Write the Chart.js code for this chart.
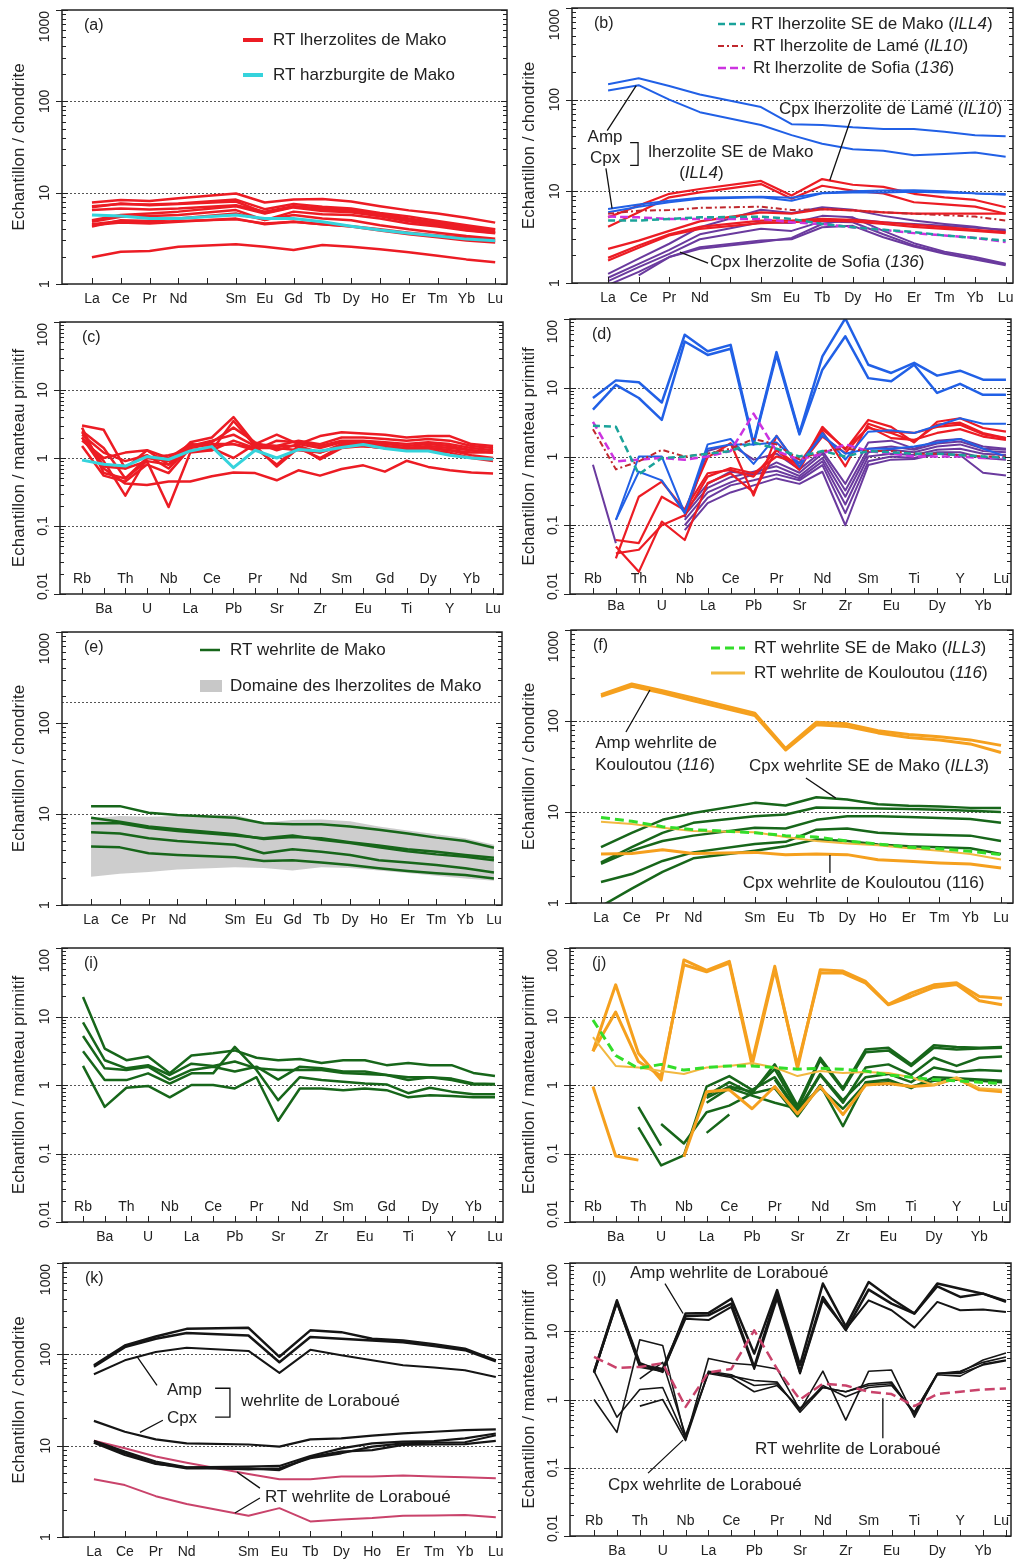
<!DOCTYPE html>
<html>
<head>
<meta charset="utf-8">
<script src="https://cdn.jsdelivr.net/npm/chart.js@4.4.1/dist/chart.umd.min.js"></script>
<style>
  html, body { margin: 0; padding: 0; background: #fff; }
  #page { position: relative; width: 1017px; height: 1562px; overflow: hidden; background: #fff; }
  #page canvas { position: absolute; }
</style>
</head>
<body>
<div id="page"></div>
<script>
const FONT = '"Liberation Sans", Arial, Helvetica, sans-serif';
Chart.defaults.font.family = FONT;
Chart.defaults.color = '#222';
Chart.defaults.animation = false;

// element lists (empty slot = Pm, no data)
const REE15 = ['La', 'Ce', 'Pr', 'Nd', '', 'Sm', 'Eu', 'Gd', 'Tb', 'Dy', 'Ho', 'Er', 'Tm', 'Yb', 'Lu'];
const REE14 = ['La', 'Ce', 'Pr', 'Nd', '', 'Sm', 'Eu', 'Tb', 'Dy', 'Ho', 'Er', 'Tm', 'Yb', 'Lu'];
const SPI20 = ['Rb', 'Ba', 'Th', 'U', 'Nb', 'La', 'Ce', 'Pb', 'Pr', 'Sr', 'Nd', 'Zr', 'Sm', 'Eu', 'Gd', 'Ti', 'Dy', 'Y', 'Yb', 'Lu'];
const SPI19 = ['Rb', 'Ba', 'Th', 'U', 'Nb', 'La', 'Ce', 'Pb', 'Pr', 'Sr', 'Nd', 'Zr', 'Sm', 'Eu', 'Ti', 'Dy', 'Y', 'Yb', 'Lu'];

// (a) RT lherzolites / harzburgite de Mako, chondrite normalised
const a_hz  = [5.7, 5.55, 5.2, 5.2, null, 5.7, 5.2, 5.2, 4.8, 4.3, 3.9, 3.6, 3.35, 3.1, 2.98];
const a_lz1 = [7.8, 8.3, 8.1, 8.7, null, 9.8, 7.8, 8.4, 8.5, 8.0, 7.1, 6.4, 5.9, 5.3, 4.7];
const a_lz2 = [6.9, 7.6, 7.3, 7.5, null, 8.0, 6.0, 7.0, 6.6, 6.3, 5.7, 5.0, 4.5, 4.1, 3.7];
const a_lz3 = [6.45, 6.7, 6.55, 6.7, null, 7.3, 6.2, 7.1, 6.7, 6.55, 5.8, 5.2, 4.7, 4.2, 3.9];
const a_lz4 = [5.0, 5.7, 5.9, 6.2, null, 7.1, 5.9, 6.9, 6.3, 6.1, 5.5, 4.85, 4.4, 3.9, 3.65];
const a_lz5 = [4.25, 5.0, 4.9, 5.2, null, 5.9, 5.05, 5.7, 5.2, 5.0, 4.4, 3.97, 3.65, 3.35, 3.13];
const a_lz6 = [4.5, 4.9, 4.7, 4.9, null, 5.1, 4.6, 4.8, 4.5, 4.25, 3.85, 3.5, 3.25, 3.0, 2.84];
const a_lz7 = [4.8, 5.45, 5.55, 5.7, null, 6.45, 5.0, 6.2, 5.8, 5.7, 5.2, 4.6, 4.25, 3.85, 3.6];
const a_lz8 = [4.4, 4.7, 4.6, 4.8, null, 5.2, 4.5, 4.8, 4.5, 4.3, 3.97, 3.65, 3.4, 3.2, 2.98];
const a_lz9 = [7.1, 7.5, 7.4, 7.6, null, 8.4, 6.6, 7.5, 7.0, 6.7, 6.0, 5.5, 4.9, 4.4, 3.97];
const a_lz10 = [1.96, 2.26, 2.3, 2.56, null, 2.72, 2.56, 2.36, 2.67, 2.56, 2.4, 2.22, 2.04, 1.86, 1.73];

// (b) lherzolites SE de Mako (ILL4), Lamé (IL10), Sofia (136)
const b_rt4   = [4.8, 4.8, 5.0, 5.2, null, 5.3, 5.0, 4.4, 4.06, 3.8, 3.6, 3.3, 3.1, 2.9];
const b_rt10  = [5.7, 6.15, 6.25, 6.6, null, 6.8, 6.25, 6.4, 6.2, 5.9, 5.7, 5.5, 5.3, 4.8];
const b_rt136 = [5.3, 5.2, 5.0, 5.0, null, 5.0, 4.6, 4.4, 4.06, 3.8, 3.5, 3.3, 3.1, 2.8];
const b_amp1  = [147, 171, 141, 114, null, 83, 54, 53, 50, 48, 48, 44.6, 41, 40];
const b_amp2  = [126, 144, 100, 73, null, 53, 41, 33, 28.8, 27.7, 24.8, 25.5, 26.5, 23.8];
const b_cpx4a = [6.4, 7.2, 7.9, 8.5, null, 8.75, 8.5, 9.6, 10, 10.2, 10.3, 10, 9.5, 9.35];
const b_cpx4b = [5.9, 6.8, 7.6, 8.3, null, 8.6, 7.9, 9.5, 9.7, 9.7, 9.9, 9.7, 9.5, 9.2];
const b_cpx10a = [5.2, 7.0, 9.4, 10.6, null, 13, 9.0, 13.6, 11.8, 11.2, 9.4, 8.6, 8.05, 6.7];
const b_cpx10b = [4.1, 5.9, 8.6, 9.75, null, 12, 8.3, 11.5, 10.2, 9.5, 7.6, 7.2, 6.8, 5.7];
const b_cpx10c = [2.36, 2.9, 3.7, 4.7, null, 5.9, 5.7, 6.4, 6.2, 5.9, 5.7, 5.7, 5.7, 5.7];
const b_cpx10d = [1.88, 2.57, 3.4, 4.1, null, 4.8, 4.8, 5.0, 4.9, 4.6, 4.3, 4.06, 3.8, 3.6];
const b_cpx10e = [1.76, 2.42, 3.3, 3.9, null, 4.5, 4.6, 4.8, 4.7, 4.4, 4.1, 3.9, 3.7, 3.5];
const b_cpx136a = [1.26, 1.84, 2.68, 4.06, null, 6.3, 5.8, 6.7, 6.3, 5.4, 4.8, 4.4, 4.1, 3.7];
const b_cpx136b = [1.14, 1.62, 2.3, 3.4, null, 4.6, 4.5, 5.4, 5.2, 3.7, 2.72, 2.2, 1.92, 1.62];
const b_cpx136c = [1.05, 1.49, 2.08, 3.0, null, 3.9, 3.7, 4.7, 4.6, 3.4, 2.57, 2.12, 1.84, 1.6];
const b_cpx136d = [0.95, 1.32, 1.92, 2.46, null, 2.9, 3.0, 4.06, 4.2, 3.16, 2.5, 2.08, 1.8, 1.56];
const b_cpx136e = [null, 1.21, 1.92, 2.36, null, 2.8, 3.1, 4.4, 5.0, 4.6, 4.4, 4.2, 4.0, 3.8];

// (c) RT lherzolites / harzburgite de Mako, primitive mantle normalised
const c_hz  = [0.93, 0.81, 0.76, 1.05, 0.95, 1.27, 1.47, 0.72, 1.3, 1.0, 1.33, 1.27, 1.43, 1.58, 1.38, 1.27, 1.27, 1.1, 1.0, 0.96];
const c_lz1 = [3.0, 2.6, 0.7, 1.3, 0.8, 1.7, 2.0, 4.0, 1.6, 2.2, 1.6, 2.1, 2.4, 2.3, 2.2, 2.0, 2.1, 2.1, 1.6, 1.5];
const c_lz2 = [2.5, 1.4, 0.5, 1.0, 0.9, 1.5, 1.8, 2.2, 1.5, 1.5, 1.8, 1.6, 2.0, 2.0, 1.9, 1.8, 1.9, 1.8, 1.5, 1.4];
const c_lz3 = [2.0, 0.9, 0.28, 1.0, 1.1, 1.3, 1.3, 1.8, 1.4, 0.8, 1.5, 1.2, 1.6, 1.6, 1.5, 1.4, 1.5, 1.4, 1.3, 1.2];
const c_lz4 = [2.8, 0.6, 0.5, 0.9, 0.19, 1.2, 1.3, 3.5, 1.5, 0.75, 1.4, 1.0, 1.5, 1.5, 1.4, 1.3, 1.4, 1.3, 1.2, 1.2];
const c_lz5 = [1.5, 0.55, 0.45, 0.8, 0.6, 1.4, 1.6, 1.6, 1.3, 1.8, 1.7, 1.5, 1.8, 1.8, 1.7, 1.6, 1.7, 1.6, 1.4, 1.3];
const c_lz6 = [2.4, 0.75, 0.7, 0.9, 0.8, 1.3, 1.4, 1.0, 1.6, 1.5, 1.5, 0.95, 1.4, 1.5, 1.4, 1.3, 1.3, 1.2, 1.0, 0.9];
const c_lz7 = [2.0, 0.7, 0.42, 0.4, 0.45, 0.45, 0.54, 0.61, 0.6, 0.47, 0.66, 0.55, 0.69, 0.78, 0.63, 0.91, 0.74, 0.66, 0.61, 0.59];
const c_lz8 = [2.2, 1.2, 0.9, 1.1, 0.7, 1.5, 1.7, 2.8, 1.7, 1.3, 1.6, 1.4, 1.7, 1.7, 1.6, 1.5, 1.6, 1.5, 1.3, 1.2];
const c_lz9 = [1.8, 1.0, 1.2, 1.3, 1.0, 1.6, 1.5, 1.6, 1.4, 1.4, 1.3, 1.2, 1.5, 1.5, 1.4, 1.4, 1.4, 1.3, 1.1, 1.0];

// (d) same samples as (b), primitive mantle normalised
const d_rt4   = [2.8, 2.7, 0.55, 0.95, 1.0, 1.1, 1.2, 1.6, 1.3, 1.0, 1.2, 1.0, 1.2, 1.15, 1.1, 1.1, 1.05, 1.0, 0.95];
const d_rt10  = [2.5, 0.65, 0.85, 1.25, 1.0, 1.1, 1.3, 1.8, 1.5, 0.9, 1.2, 1.3, 1.2, 1.2, 1.1, 1.1, 1.05, 1.0, 1.0];
const d_rt136 = [3.2, 0.85, 0.9, 0.95, 0.9, 1.0, 1.2, 4.2, 1.2, 0.9, 1.1, 1.5, 1.2, 1.1, 1.0, 1.0, 1.0, 0.95, 0.95];
const d_amp1  = [7.1, 12.8, 12, 6.1, 59, 34, 42, 1.56, 33, 2.19, 28.6, 102, 21.6, 16.4, 23, 15, 17.7, 13.1, 13.1];
const d_amp2  = [4.8, 11, 7.1, 3.4, 47, 30, 37, 1.5, 30, 2.1, 18.3, 56, 13.8, 12.4, 21.6, 8.4, 11.4, 7.9, 7.9];
const d_cpx4a = [null, 0.12, 0.6, 0.45, 0.15, 1.5, 1.8, 0.78, 2.0, 0.7, 2.2, 0.9, 2.3, 2.4, 2.2, 2.8, 3.6, 3.0, 3.0];
const d_cpx4b = [null, 0.12, 1.0, 1.0, 0.15, 1.3, 1.5, 1.5, 1.6, 0.8, 2.0, 1.1, 1.3, 1.3, 1.4, 1.6, 1.8, 1.3, 1.0];
const d_cpx10a = [null, 0.033, 0.26, 0.43, 0.167, 0.97, 1.56, 0.27, 2.0, 0.68, 2.7, 1.25, 3.4, 2.7, 1.6, 3.2, 3.6, 2.6, 2.3];
const d_cpx10b = [null, 0.039, 0.044, 0.1, 0.14, 0.51, 0.68, 0.57, 1.0, 0.8, 2.3, 0.72, 3.0, 2.3, 2.2, 2.7, 2.9, 2.1, 1.85];
const d_cpx10c = [null, 0.049, 0.021, 0.113, 0.061, 0.41, 0.57, 0.3, 1.25, 0.64, 2.5, 1.3, 2.6, 2.2, 1.66, 2.9, 3.1, 2.2, 1.85];
const d_cpx10d = [null, 0.061, 0.055, 0.26, 0.167, 0.57, 0.64, 0.51, 1.25, 0.72, 1.95, 1.12, 2.7, 1.85, 1.75, 2.2, 2.5, 1.95, 1.75];
const d_cpx136a = [0.76, 0.055, null, null, 0.085, 0.21, 0.30, 0.38, 0.48, 0.40, 0.60, 0.10, 0.75, 0.90, 0.92, 1.10, 1.05, 0.58, 0.53];
const d_cpx136b = [null, null, null, null, 0.10, 0.25, 0.38, 0.45, 0.55, 0.45, 0.75, 0.15, 0.85, 1.0, 0.95, 1.15, 1.15, 0.95, 0.9];
const d_cpx136c = [null, null, null, null, 0.12, 0.30, 0.42, 0.55, 0.62, 0.48, 0.85, 0.20, 1.0, 1.1, 1.05, 1.25, 1.3, 1.1, 1.05];
const d_cpx136d = [null, null, null, null, 0.14, 0.35, 0.50, 0.6, 0.72, 0.52, 0.95, 0.26, 1.15, 1.25, 1.15, 1.4, 1.5, 1.2, 1.15];
const d_cpx136e = [null, null, null, null, 0.16, 0.40, 0.60, 0.55, 0.82, 0.58, 1.1, 0.32, 1.3, 1.4, 1.25, 1.55, 1.65, 1.3, 1.25];
const d_cpx136f = [null, null, null, null, 0.13, 1.2, 1.5, 0.9, 1.1, 0.65, 1.2, 0.4, 1.6, 1.7, 1.3, 1.7, 1.8, 1.4, 1.3];

// (e) RT wehrlites de Mako + lherzolite field
const e_w1 = [12.2, 12.2, 10.3, 9.75, null, 9.1, 7.9, 7.7, 7.7, 7.3, 6.7, 6.1, 5.5, 5.05, 4.26];
const e_w2 = [9.1, 8.2, 7.3, 6.8, null, 6.0, 5.3, 5.6, 5.4, 4.9, 4.5, 4.1, 3.85, 3.55, 3.3];
const e_w3 = [7.9, 7.9, 7.0, 6.5, null, 5.8, 5.4, 5.8, 5.2, 4.8, 4.3, 3.9, 3.6, 3.4, 3.1];
const e_w4 = [6.3, 6.1, 5.4, 5.05, null, 4.6, 3.7, 4.1, 3.85, 3.55, 3.1, 2.94, 2.75, 2.53, 2.28];
const e_w5 = [4.4, 4.3, 3.7, 3.55, null, 3.34, 3.04, 3.1, 2.94, 2.75, 2.53, 2.36, 2.23, 2.14, 1.96];
const e_bandHi = [9.0, 9.5, 9.3, 9.5, null, 9.8, 8.0, 8.6, 8.7, 8.3, 7.3, 6.6, 6.0, 5.4, 4.6];
const e_bandLo = [2.05, 2.2, 2.3, 2.45, null, 2.6, 2.55, 2.4, 2.6, 2.55, 2.4, 2.25, 2.1, 1.95, 1.85];

// (f) wehrlites SE de Mako (ILL3) and Kouloutou (116)
const f_rt3   = [8.7, 7.9, 6.9, 6.4, null, 5.9, 5.5, 5.3, 4.8, 4.45, 4.1, 3.95, 3.7, 3.4];
const f_rt116 = [7.8, 7.4, 6.7, 6.2, null, 6.0, 5.3, 4.8, 4.5, 4.3, 4.0, 3.76, 3.45, 3.0];
const f_amp1  = [195, 255, 215, 179, null, 122, 50, 97, 93, 78, 71, 67, 62, 54];
const f_amp2  = [187, 240, 203, 167, null, 115, 48, 91, 87, 74, 66, 62, 56, 45];
const f_cpx116 = [3.45, 3.5, 3.85, 3.5, null, 3.6, 3.4, 3.45, 3.4, 2.99, 2.87, 2.75, 2.68, 2.42];
const f_cpx3a = [4.1, 5.9, 8.2, 9.75, null, 12.6, 11.8, 14.5, 13.7, 12.2, 11.7, 11.5, 11.1, 11.1];
const f_cpx3b = [2.8, 4.1, 5.9, 7.6, null, 9.0, 9.4, 11.2, 11.1, 10.9, 10.8, 10.6, 10.3, 10.0];
const f_cpx3c = [2.7, 3.76, 4.8, 5.5, null, 6.7, 6.6, 8.2, 9.0, 9.0, 8.8, 8.6, 8.4, 7.6];
const f_cpx3d = [1.7, 2.08, 2.9, 3.6, null, 4.45, 4.7, 6.4, 6.6, 5.9, 5.7, 5.6, 5.5, 4.8];
const f_cpx3e = [0.92, 1.44, 2.2, 3.1, null, 3.76, 4.2, 5.0, 4.8, 4.4, 4.2, 4.1, 4.0, 3.45];

// (i) RT wehrlites de Mako, primitive mantle
const i_w1 = [19.3, 3.4, 2.3, 2.6, 1.48, 2.7, 2.9, 3.2, 2.5, 2.3, 2.4, 2.1, 2.3, 2.3, 1.95, 2.1, 1.95, 1.95, 1.5, 1.35];
const i_w2 = [8.2, 2.3, 1.75, 1.95, 1.4, 2.05, 1.9, 2.2, 1.75, 1.66, 1.66, 1.66, 1.5, 1.45, 1.4, 1.3, 1.3, 1.24, 1.05, 1.03];
const i_w3 = [5.2, 1.75, 1.66, 1.85, 1.2, 1.66, 1.85, 1.57, 1.85, 1.2, 1.85, 1.75, 1.57, 1.57, 1.4, 1.18, 1.3, 1.18, 1.02, 1.02];
const i_w4 = [3.1, 1.18, 1.18, 1.48, 1.05, 1.48, 1.48, 3.6, 1.66, 0.6, 1.3, 1.18, 1.12, 1.05, 1.02, 0.76, 0.91, 0.8, 0.73, 0.73];
const i_w5 = [1.9, 0.48, 0.91, 0.97, 0.66, 1.0, 1.0, 0.89, 1.3, 0.3, 0.89, 0.89, 0.84, 0.89, 0.84, 0.66, 0.71, 0.69, 0.66, 0.66];

// (j) same samples as (f), primitive mantle
const j_rt3   = [8.9, 2.7, 1.75, 2.0, 1.65, 1.8, 1.9, 1.9, 1.8, 1.7, 1.75, 1.7, 1.6, 1.4, 1.3, 1.2, 1.15, 1.1, 1.05];
const j_rt116 = [5.0, 1.9, 1.8, 1.6, 1.45, 1.8, 1.9, 2.1, 1.8, 1.35, 1.6, 1.5, 1.55, 1.5, 1.3, 1.0, 1.3, 0.9, 0.85];
const j_amp1  = [3.1, 29, 2.9, 1.18, 67, 47, 64, 2.2, 54, 1.75, 48, 46, 32.5, 15.1, 22, 29, 31, 19.6, 18.5];
const j_amp2  = [3.1, 11.6, 2.2, 1.35, 57, 45, 60, 1.95, 48, 1.95, 43, 43, 30.6, 14.8, 19.6, 26.6, 29.4, 17, 14.8];
const j_cpx116 = [0.95, 0.092, 0.08, null, 0.09, 0.8, 0.85, 0.45, 0.95, 0.38, 0.95, 0.37, 1.0, 1.05, 0.95, 1.0, 1.25, 0.85, 0.8];
const j_cpx3a = [null, null, 0.48, 0.13, null, 0.65, 0.95, 0.8, 1.7, 0.45, 2.3, 0.85, 3.0, 3.2, 1.9, 3.5, 3.3, 3.4, 3.5];
const j_cpx3b = [null, null, 0.24, 0.067, 0.094, 0.95, 1.35, 0.85, 1.3, 0.42, 1.45, 0.6, 1.3, 1.45, 1.1, 1.8, 1.55, 1.65, 1.6];
const j_cpx3c = [null, null, null, 0.27, 0.14, 0.4, 0.5, 0.75, 2.0, 0.5, 2.5, 0.9, 3.3, 3.5, 2.0, 3.8, 3.6, 3.5, 3.6];
const j_cpx3d = [null, null, null, null, null, 0.2, 0.37, null, 1.2, 0.4, 1.4, 0.55, 1.8, 2.0, 1.4, 2.5, 1.9, 2.5, 2.6];
const j_cpx3e = [null, null, null, null, null, 0.7, 1.1, 0.75, 0.9, 0.35, 1.0, 0.25, 1.1, 1.2, 0.9, 1.3, 1.25, 1.2, 1.15];
const j_cpx3f = [null, null, null, null, null, 0.55, 0.9, 0.7, 0.55, 0.45, 0.9, 0.45, 1.05, 1.1, 0.95, 1.15, 1.2, 1.15, 1.1];

// (k) wehrlite de Loraboué, chondrite
const k_amp1 = [76, 125, 157, 190, null, 195, 94, 183, 175, 148, 142, 129, 115, 86];
const k_amp2 = [73, 120, 148, 171, null, 161, 82, 155, 148, 142, 136, 123, 111, 84];
const k_amp3 = [60.5, 86, 106, 118, null, 109, 62.6, 112, 97.5, 86, 76, 71.6, 67, 56.6];
const k_cpx1 = [18.7, 14.2, 11.7, 10.6, null, 10.3, 9.75, 11.7, 12.0, 12.9, 13.6, 14.2, 14.8, 15.1];
const k_cpx2 = [11.3, 8.6, 6.7, 5.8, null, 5.9, 6.0, 7.7, 9.35, 10.6, 11.1, 11.2, 12.0, 13.6];
const k_cpx3 = [10.9, 8.25, 6.4, 5.65, null, 5.65, 5.4, 7.5, 8.6, 8.95, 10.2, 10.3, 10.4, 11.3];
const k_cpx4 = [10.8, 7.9, 6.3, 5.8, null, 5.5, 5.65, 7.3, 8.25, 9.75, 10.6, 10.8, 10.9, 13.0];
const k_rt1  = [11.3, 9.35, 7.6, 6.5, null, 4.9, 4.3, 4.3, 4.6, 4.6, 4.7, 4.6, 4.5, 4.4];
const k_rt2  = [4.3, 3.7, 2.8, 2.3, null, 1.71, 2.07, 1.48, 1.55, 1.61, 1.71, 1.72, 1.74, 1.65];

// (l) wehrlite de Loraboué, primitive mantle
const l_rt   = [4.2, 2.9, 3.0, 3.4, 0.78, 2.5, 2.8, 10.3, 2.8, 1.0, 1.7, 1.6, 1.3, 1.2, 0.8, 1.2, 1.3, 1.4, 1.45];
const l_amp1 = [2.54, 28.4, 3.4, 2.54, 18.2, 18.5, 30, 4.7, 40, 3.2, 50, 11.8, 52.7, 30, 18.2, 50, 42, 35.6, 27.8];
const l_amp2 = [2.54, 27, 3.2, 2.8, 16.6, 17.1, 25.4, 3.0, 35.6, 2.54, 31.8, 10.4, 40.7, 25.4, 18.2, 45.6, 31.8, 35.6, 26.9];
const l_amp3 = [2.45, 26, 3.0, 2.6, 15.3, 14.6, 22.7, 2.8, 30, 2.4, 28.4, 10.7, 28.4, 20.3, 11.3, 26.9, 20.3, 20.8, 19.2];
const l_cpx1 = [1.0, 0.33, 7.5, 6.2, 0.26, 4.0, 3.4, 3.2, 2.8, 0.7, 2.6, 0.5, 2.6, 2.7, 0.55, 2.4, 2.5, 3.8, 4.8];
const l_cpx2 = [2.6, 0.55, 1.4, 1.5, 0.27, 2.6, 2.3, 1.6, 1.7, 0.7, 1.6, 1.1, 1.5, 1.6, 0.65, 2.4, 2.6, 3.5, 4.2];
const l_cpx3 = [null, null, 0.8, 1.0, 0.25, 2.5, 2.2, 1.9, 1.8, 0.65, 1.5, 1.3, 1.7, 1.8, 0.6, 2.3, 2.2, 3.3, 3.8];
const l_cpx4 = [null, null, 2.0, 3.5, 0.3, 2.4, 2.1, 1.3, 1.6, 0.75, 1.5, 1.3, 1.6, 1.7, 0.65, 2.4, 2.4, 3.2, 3.7];

// colours
const RED = '#ec1c24', CYAN = '#35d3dc', BLUE = '#2160e6', PURPLE = '#6a3a9e';
const TEAL = '#1aa39a', DKRED = '#c0282d', MAGENTA = '#cc33e0';
const GREEN = '#17661a', LGREEN = '#33dd2a', ORANGE = '#f5a01e', ORANGE2 = '#f2b840';
const BLACK = '#151515', PINK = '#c9436b';
const TCH = 'Echantillon / chondrite', TPM = 'Echantillon / manteau primitif';

function ln(data, color, w, dash) { return { data, color, w: w || 2, dash }; }

const panels = [
  { tag: '(a)', box: [0, 0, 510, 312], frame: [62, 10, 507, 284], cats: REE15, x: [-1.04, 14.41], y: [1, 1000],
    title: TCH, ref: [100, 10],
    series: [ln(a_hz, CYAN, 3), ln(a_lz1, RED, 2.5), ln(a_lz2, RED, 2.5), ln(a_lz3, RED, 2.5), ln(a_lz4, RED, 2.5),
      ln(a_lz5, RED, 2.5), ln(a_lz6, RED, 2.5), ln(a_lz7, RED, 2.5), ln(a_lz8, RED, 2.5), ln(a_lz9, RED, 2.5), ln(a_lz10, RED, 2.5)],
    legend: [{ x1: 181, x2: 201, y: 30, color: RED, w: 4, tx: 211, text: 'RT lherzolites de Mako' },
             { x1: 181, x2: 201, y: 65, color: CYAN, w: 4, tx: 211, text: 'RT harzburgite de Mako' }] },

  { tag: '(b)', box: [510, 0, 507, 312], frame: [572, 8, 1013, 283], cats: REE14, x: [-1.18, 13.24], y: [1, 1000],
    title: TCH, ref: [100, 10],
    series: [ln(b_rt4, TEAL, 2.5, [7, 4]), ln(b_rt10, DKRED, 2, [6, 3, 2, 3]), ln(b_rt136, MAGENTA, 2.5, [8, 4]),
      ln(b_amp1, BLUE, 2), ln(b_amp2, BLUE, 2), ln(b_cpx4a, BLUE, 2), ln(b_cpx4b, BLUE, 2),
      ln(b_cpx10a, RED, 2.2), ln(b_cpx10b, RED, 2.2), ln(b_cpx10c, RED, 2.2), ln(b_cpx10d, RED, 2.2), ln(b_cpx10e, RED, 2.2),
      ln(b_cpx136a, PURPLE, 2), ln(b_cpx136b, PURPLE, 2), ln(b_cpx136c, PURPLE, 2), ln(b_cpx136d, PURPLE, 2), ln(b_cpx136e, PURPLE, 2)],
    legend: [{ x1: 146, x2: 173, y: 16, color: TEAL, w: 2.5, dash: [7, 4], tx: 179, text: 'RT lherzolite SE de Mako (*ILL4*)' },
             { x1: 146, x2: 173, y: 38, color: DKRED, w: 2, dash: [6, 3, 2, 3], tx: 181, text: 'RT lherzolite de Lamé (*IL10*)' },
             { x1: 146, x2: 173, y: 60, color: MAGENTA, w: 2.5, dash: [8, 4], tx: 181, text: 'Rt lherzolite de Sofia (*136*)' }],
    notes: [{ x: -0.1, y: 38.6, t: 'Amp', align: 'center' }, { x: -0.1, y: 22.8, t: 'Cpx', align: 'center' },
            { x: 1.31, y: 26.5, t: 'lherzolite SE de Mako' }, { x: 3.05, y: 15.7, t: '(*ILL4*)', align: 'center' },
            { x: 5.59, y: 77.9, t: 'Cpx lherzolite de Lamé (*IL10*)' }, { x: 3.33, y: 1.69, t: 'Cpx lherzolite de Sofia (*136*)' }],
    leaders: [[-0.03, 46, 0.92, 142], [-0.07, 17.8, 0.13, 6.5], [7.94, 62, 7.25, 13.2], [3.27, 1.65, 2.35, 2.17]],
    brackets: [[0.72, 0.98, 34, 19.2]] },

  { tag: '(c)', box: [0, 312, 510, 313], frame: [60, 322, 503, 594], cats: SPI20, x: [-1.02, 19.46], y: [0.01, 100],
    title: TPM, ref: [10, 1, 0.1], spider: true,
    series: [ln(c_hz, CYAN, 3), ln(c_lz1, RED, 2.5), ln(c_lz2, RED, 2.5), ln(c_lz3, RED, 2.5), ln(c_lz4, RED, 2.5), ln(c_lz5, RED, 2.5),
      ln(c_lz6, RED, 2.5), ln(c_lz7, RED, 2.5), ln(c_lz8, RED, 2.5), ln(c_lz9, RED, 2.5)] },

  { tag: '(d)', box: [510, 312, 507, 313], frame: [570, 319, 1011, 594], cats: SPI19, x: [-1.0, 18.22], y: [0.01, 100],
    title: TPM, ref: [10, 1, 0.1], spider: true, lpad: 4,
    series: [ln(d_rt4, TEAL, 2.5, [7, 4]), ln(d_rt10, DKRED, 2, [6, 3, 2, 3]), ln(d_rt136, MAGENTA, 2.5, [8, 4]),
      ln(d_amp1, BLUE, 2.5), ln(d_amp2, BLUE, 2.5), ln(d_cpx4a, BLUE, 2), ln(d_cpx4b, BLUE, 2),
      ln(d_cpx10a, RED, 2.2), ln(d_cpx10b, RED, 2.2), ln(d_cpx10c, RED, 2.2), ln(d_cpx10d, RED, 2.2),
      ln(d_cpx136a, PURPLE, 2), ln(d_cpx136b, PURPLE, 2), ln(d_cpx136c, PURPLE, 2), ln(d_cpx136d, PURPLE, 2),
      ln(d_cpx136e, PURPLE, 2), ln(d_cpx136f, PURPLE, 2)] },

  { tag: '(e)', box: [0, 625, 510, 310], frame: [62, 632, 502, 905], cats: REE15, x: [-1.01, 14.28], y: [1, 1000],
    title: TCH, ref: [170, 10],
    series: [ln(e_w1, GREEN, 2.5), ln(e_w2, GREEN, 2.5), ln(e_w3, GREEN, 2.5), ln(e_w4, GREEN, 2.5), ln(e_w5, GREEN, 2.5),
      { data: e_bandHi, color: 'rgba(0,0,0,0)', w: 1 },
      { data: e_bandLo, color: 'rgba(0,0,0,0)', w: 1, fill: '-1', bg: 'rgba(192,192,192,0.8)' }],
    legend: [{ x1: 138, x2: 158, y: 18, color: GREEN, w: 2.5, tx: 168, text: 'RT wehrlite de Mako' },
             { x1: 138, x2: 160, y: 54, box: true, color: '#c8c8c8', tx: 168, text: 'Domaine des lherzolites de Mako' }] },

  { tag: '(f)', box: [510, 625, 507, 310], frame: [571, 630, 1013, 903], cats: REE14, x: [-0.975, 13.39], y: [1, 1000],
    title: TCH, ref: [100, 10],
    series: [ln(f_rt3, LGREEN, 3, [9, 5]), ln(f_rt116, ORANGE2, 2), ln(f_amp1, ORANGE, 3), ln(f_amp2, ORANGE, 3),
      ln(f_cpx116, ORANGE, 3), ln(f_cpx3a, GREEN, 2.5), ln(f_cpx3b, GREEN, 2.5), ln(f_cpx3c, GREEN, 2.5),
      ln(f_cpx3d, GREEN, 2.5), ln(f_cpx3e, GREEN, 2.5)],
    legend: [{ x1: 140, x2: 174, y: 18, color: LGREEN, w: 3, dash: [9, 5], tx: 183, text: 'RT wehrlite SE de Mako (*ILL3*)' },
             { x1: 140, x2: 174, y: 43, color: ORANGE2, w: 3, tx: 183, text: 'RT wehrlite de Kouloutou (*116*)' }],
    notes: [{ x: -0.19, y: 57.3, t: 'Amp wehrlite de' }, { x: -0.19, y: 32.8, t: 'Kouloutou (*116*)' },
            { x: 4.81, y: 32, t: 'Cpx wehrlite SE de Mako (*ILL3*)' }, { x: 4.61, y: 1.66, t: 'Cpx wehrlite de Kouloutou (116)' }],
    leaders: [[0.81, 75.7, 1.59, 219], [7.63, 14.2, 6.66, 23.6], [7.44, 3.37, 7.44, 2.14]] },

  { tag: '(i)', box: [0, 935, 510, 315], frame: [62, 948, 503, 1222], cats: SPI20, x: [-0.97, 19.37], y: [0.01, 100],
    title: TPM, ref: [10, 1, 0.1], spider: true,
    series: [ln(i_w1, GREEN, 2.5), ln(i_w2, GREEN, 2.5), ln(i_w3, GREEN, 2.5), ln(i_w4, GREEN, 2.5), ln(i_w5, GREEN, 2.5)] },

  { tag: '(j)', box: [510, 935, 507, 315], frame: [570, 948, 1010, 1222], cats: SPI19, x: [-1.01, 18.35], y: [0.01, 100],
    title: TPM, ref: [10, 1, 0.1], spider: true,
    series: [ln(j_rt3, LGREEN, 3, [9, 5]), ln(j_rt116, ORANGE2, 2), ln(j_amp1, ORANGE, 3), ln(j_amp2, ORANGE, 3),
      ln(j_cpx116, ORANGE, 3), ln(j_cpx3a, GREEN, 2.5), ln(j_cpx3b, GREEN, 2.5), ln(j_cpx3c, GREEN, 2.5),
      ln(j_cpx3d, GREEN, 2.5), ln(j_cpx3e, GREEN, 2.5), ln(j_cpx3f, GREEN, 2.5)] },

  { tag: '(k)', box: [0, 1250, 510, 312], frame: [63, 1263, 502, 1537], cats: REE14, x: [-1.0, 13.2], y: [1, 1000],
    title: TCH, ref: [100, 10],
    series: [ln(k_amp1, BLACK, 2.5), ln(k_amp2, BLACK, 2.5), ln(k_amp3, BLACK, 2), ln(k_cpx1, BLACK, 2.2),
      ln(k_cpx2, BLACK, 2.2), ln(k_cpx3, BLACK, 2.2), ln(k_cpx4, BLACK, 2.2), ln(k_rt1, PINK, 2), ln(k_rt2, PINK, 2)],
    notes: [{ x: 2.36, y: 40.4, t: 'Amp' }, { x: 2.36, y: 20, t: 'Cpx' }, { x: 4.76, y: 30.6, t: 'wehrlite de Loraboué' },
            { x: 5.53, y: 2.74, t: 'RT wehrlite de Loraboué' }],
    leaders: [[2.04, 45.8, 1.39, 95], [2.23, 19, 1.49, 14], [5.37, 3.43, 4.63, 5.13], [5.37, 2.67, 4.56, 1.83]],
    brackets: [[3.92, 4.4, 42.5, 20.5]] },

  { tag: '(l)', box: [510, 1250, 507, 312], frame: [570, 1263, 1011, 1536], cats: SPI19, x: [-1.05, 18.22], y: [0.01, 100],
    title: TPM, ref: [10, 1, 0.1], spider: true,
    series: [ln(l_rt, PINK, 2.5, [10, 5]), ln(l_amp1, BLACK, 2.5), ln(l_amp2, BLACK, 2.5), ln(l_amp3, BLACK, 2),
      ln(l_cpx1, BLACK, 1.6), ln(l_cpx2, BLACK, 1.6), ln(l_cpx3, BLACK, 1.6), ln(l_cpx4, BLACK, 1.6)],
    notes: [{ x: 1.57, y: 70, t: 'Amp wehrlite de Loraboué' }, { x: 7.03, y: 0.187, t: 'RT wehrlite de Loraboué' },
            { x: 0.61, y: 0.0557, t: 'Cpx wehrlite de Loraboué' }],
    leaders: [[3.10, 50, 3.89, 18.2], [12.62, 1.04, 12.62, 0.27], [2.36, 0.0834, 3.89, 0.254]] }
];

function decades(r) {
  const out = [];
  for (let e = Math.round(Math.log10(r[0])); e <= Math.round(Math.log10(r[1])); e++) out.push(Number('1e' + e));
  return out;
}

// text with *italic* parts
function richText(ctx, str, x, y, size, align) {
  const parts = str.split('*');
  const fonts = parts.map((s, i) => (i % 2 ? 'italic ' : '') + size + 'px ' + FONT);
  const widths = parts.map((s, i) => { ctx.font = fonts[i]; return ctx.measureText(s).width; });
  const total = widths.reduce((a, b) => a + b, 0);
  let cx = align === 'center' ? x - total / 2 : x;
  ctx.textAlign = 'left';
  ctx.textBaseline = 'middle';
  parts.forEach((s, i) => { ctx.font = fonts[i]; ctx.fillText(s, cx, y); cx += widths[i]; });
}

function seg(ctx, x1, y1, x2, y2) { ctx.moveTo(x1, y1); ctx.lineTo(x2, y2); }

function makeDecor(p) {
  return {
    id: 'decor',
    beforeDatasetsDraw(chart) {
      const { ctx, chartArea: a, scales: { y } } = chart;
      ctx.save();
      ctx.strokeStyle = '#555';
      ctx.lineWidth = 1;
      ctx.setLineDash([2, 2]);
      ctx.beginPath();
      p.ref.forEach(v => { const py = Math.round(y.getPixelForValue(v)) + 0.5; seg(ctx, a.left, py, a.right, py); });
      ctx.stroke();
      ctx.restore();
    },
    afterDatasetsDraw(chart) {
      const { ctx, chartArea: a, scales: { x, y } } = chart;
      ctx.save();
      ctx.strokeStyle = '#222';
      ctx.lineWidth = 1;
      ctx.beginPath();
      decades(p.y).forEach(d => {
        for (let k = 1; k <= 9; k++) {
          const v = k * d;
          if (v > p.y[1] * 1.0001) break;
          const py = Math.round(y.getPixelForValue(v)) + 0.5;
          const len = k === 1 ? 6 : 4;
          seg(ctx, a.left - (k === 1 ? 6 : 0), py, a.left + len, py);
          seg(ctx, a.right - len, py, a.right, py);
        }
      });
      p.cats.forEach((c, i) => {
        const px = Math.round(x.getPixelForValue(i)) + 0.5;
        seg(ctx, px, a.bottom, px, a.bottom - 6);
      });
      ctx.stroke();
      ctx.lineWidth = 1.5;
      ctx.strokeRect(a.left, a.top, a.right - a.left, a.bottom - a.top);

      ctx.lineWidth = 1.3;
      ctx.strokeStyle = '#111';
      ctx.beginPath();
      (p.leaders || []).forEach(([x1, y1, x2, y2]) => {
        seg(ctx, x.getPixelForValue(x1), y.getPixelForValue(y1), x.getPixelForValue(x2), y.getPixelForValue(y2));
      });
      (p.brackets || []).forEach(([x1, x2, y1, y2]) => {
        const X1 = x.getPixelForValue(x1), X2 = x.getPixelForValue(x2);
        const Y1 = y.getPixelForValue(y1), Y2 = y.getPixelForValue(y2);
        ctx.moveTo(X1, Y1); ctx.lineTo(X2, Y1); ctx.lineTo(X2, Y2); ctx.lineTo(X1, Y2);
      });
      ctx.stroke();
      ctx.restore();
    },
    afterDraw(chart) {
      const { ctx, chartArea: a, scales: { x, y } } = chart;
      ctx.save();
      ctx.fillStyle = '#222';
      // rotated decade labels
      ctx.font = '14px ' + FONT;
      decades(p.y).forEach(v => {
        const s = String(v).replace('.', ',');
        const w = ctx.measureText(s).width;
        let cy = y.getPixelForValue(v);
        cy = Math.max(cy, a.top + w / 2 + 1);
        cy = Math.min(cy, a.bottom + 6 - w / 2);
        ctx.save();
        ctx.translate(a.left - 17, cy);
        ctx.rotate(-Math.PI / 2);
        ctx.textAlign = 'center';
        ctx.textBaseline = 'middle';
        ctx.fillText(s, 0, 0);
        ctx.restore();
      });
      // upper row of element names inside the frame
      if (p.spider) {
        ctx.textAlign = 'center';
        ctx.textBaseline = 'middle';
        p.cats.forEach((c, i) => {
          if (i % 2) return;
          const w = ctx.measureText(c).width;
          const cx = Math.min(x.getPixelForValue(i), a.right - w / 2 - 2);
          ctx.fillText(c, cx, a.bottom - 15);
        });
      }
      richText(ctx, p.tag, a.left + 22, a.top + 16, 16, 'left');
      (p.legend || []).forEach(g => {
        const yy = a.top + g.y;
        if (g.box) {
          ctx.fillStyle = g.color;
          ctx.fillRect(a.left + g.x1, yy - 6, g.x2 - g.x1, 12);
        } else {
          ctx.strokeStyle = g.color;
          ctx.lineWidth = g.w;
          ctx.setLineDash(g.dash || []);
          ctx.beginPath();
          seg(ctx, a.left + g.x1, yy, a.left + g.x2, yy);
          ctx.stroke();
          ctx.setLineDash([]);
        }
        ctx.fillStyle = '#222';
        richText(ctx, g.text, a.left + g.tx, yy, 17, 'left');
      });
      (p.notes || []).forEach(n => {
        richText(ctx, n.t, x.getPixelForValue(n.x), y.getPixelForValue(n.y), 17, n.align || 'left');
      });
      ctx.restore();
    }
  };
}

function makeChart(p) {
  const [bx, by, bw, bh] = p.box;
  const [L, T, R, B] = p.frame;
  const cv = document.createElement('canvas');
  cv.width = bw;
  cv.height = bh;
  cv.style.left = bx + 'px';
  cv.style.top = by + 'px';
  document.getElementById('page').appendChild(cv);

  const datasets = p.series.map(s => ({
    data: s.data.map((v, i) => ({ x: i, y: v })),
    borderColor: s.color,
    borderWidth: s.w,
    borderDash: s.dash || [],
    backgroundColor: s.bg || s.color,
    fill: s.fill || false,
    pointRadius: 0,
    tension: 0,
    spanGaps: !p.spider,
    borderJoinStyle: 'round'
  }));

  new Chart(cv, {
    type: 'line',
    data: { datasets },
    options: {
      responsive: false,
      animation: false,
      events: [],
      layout: { padding: { left: 0, top: T - by, right: bx + bw - R, bottom: 0 } },
      plugins: { legend: { display: false }, tooltip: { enabled: false } },
      scales: {
        x: {
          type: 'linear', min: p.x[0], max: p.x[1],
          afterBuildTicks: s => { s.ticks = p.cats.map((c, i) => ({ value: i })); },
          afterFit: s => { s.height = by + bh - B; s.paddingLeft = 0; s.paddingRight = 0; },
          grid: { display: false, drawTicks: false },
          border: { display: false },
          ticks: {
            autoSkip: false, maxRotation: 0, minRotation: 0, padding: p.lpad || 7,
            font: { size: 14 }, color: '#222',
            callback: v => p.spider ? (v % 2 === 1 ? p.cats[v] : '') : p.cats[v]
          }
        },
        y: {
          type: 'logarithmic', min: p.y[0], max: p.y[1],
          afterBuildTicks: s => { s.ticks = decades(p.y).map(v => ({ value: v })); },
          afterFit: s => { s.width = L - bx; s.paddingTop = 0; s.paddingBottom = 0; },
          grid: { display: false, drawTicks: false },
          border: { display: false },
          ticks: { display: false },
          title: { display: true, text: p.title, color: '#222', font: { size: 17 }, padding: { top: 9, bottom: 0 } }
        }
      }
    },
    plugins: [makeDecor(p)]
  });
}

panels.forEach(makeChart);
</script>
</body>
</html>
